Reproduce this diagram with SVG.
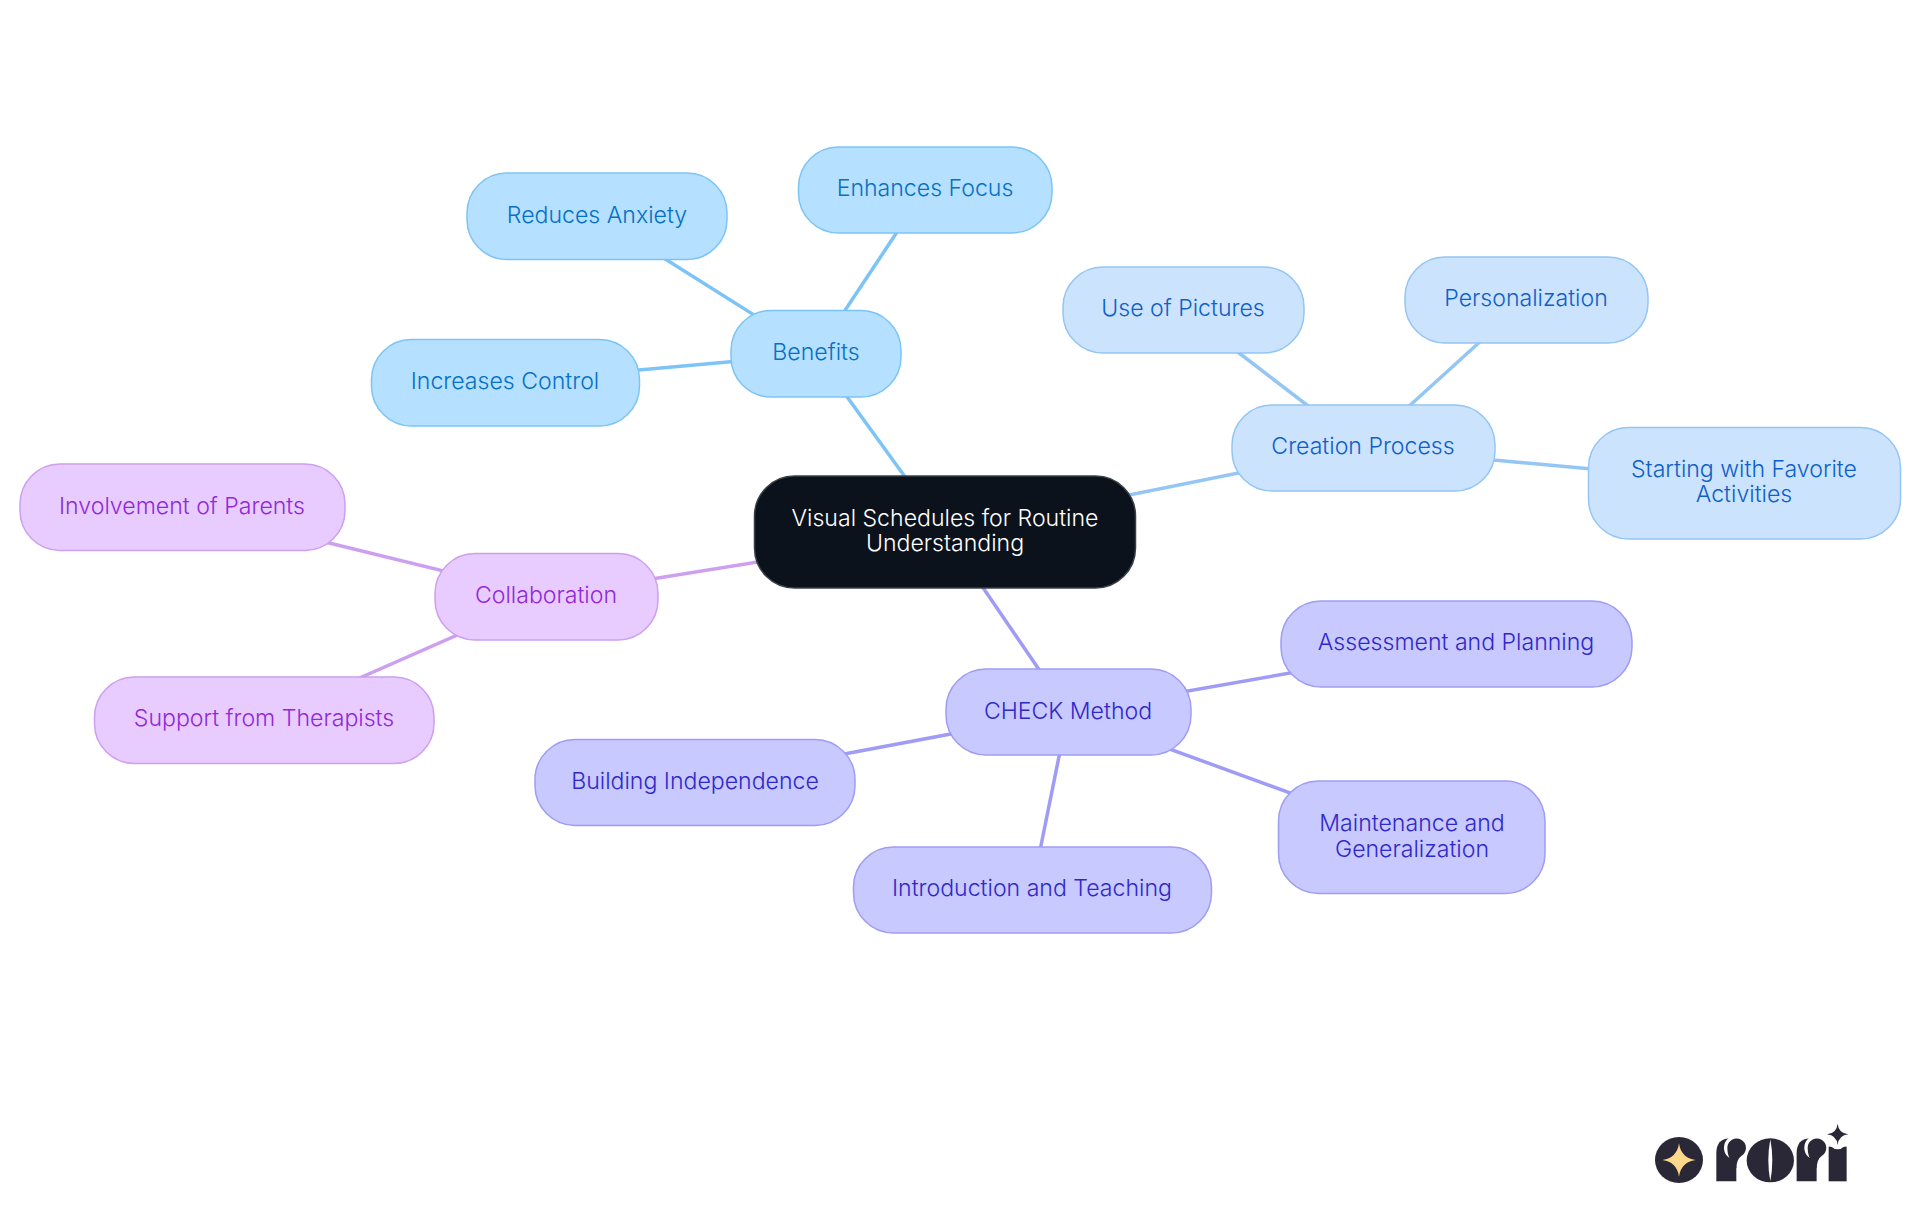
<svg xmlns="http://www.w3.org/2000/svg" width="1920" height="1215" viewBox="0 0 1920 1215">
<style>
text{font-family:"Inter","Noto Sans",sans-serif;font-size:23.1px;text-anchor:middle;font-weight:350}
rect{stroke-width:1.5}
line{stroke-width:3.5;fill:none}
.r rect{fill:#0b121b;stroke:#3a4048}.r text{fill:#fff}
.b rect{fill:#b5e0ff;stroke:#7cc4f5}.b text{fill:#0570c5}
.c rect{fill:#cce3fd;stroke:#93c5f5}.c text{fill:#0f5fc8}
.k rect{fill:#c7c9ff;stroke:#a09cf5}.k text{fill:#3028c8}
.p rect{fill:#e8ccff;stroke:#cc9ff0}.p text{fill:#9128d9}
.lb{stroke:#7cc4f5}.lc{stroke:#93c5f5}.lk{stroke:#a09cf5}.lp{stroke:#cc9ff0}
</style>
<rect width="1920" height="1215" fill="#fff" style="stroke:none"/>
<g id="connectors">
<line class="lb" x1="945" y1="532" x2="816" y2="354"/>
<line class="lb" x1="816" y1="354" x2="925" y2="190"/>
<line class="lb" x1="816" y1="354" x2="597" y2="216"/>
<line class="lb" x1="816" y1="354" x2="505" y2="382"/>
<line class="lc" x1="945" y1="532" x2="1363" y2="448"/>
<line class="lc" x1="1363" y1="448" x2="1183" y2="310"/>
<line class="lc" x1="1363" y1="448" x2="1526" y2="300"/>
<line class="lc" x1="1363" y1="448" x2="1744" y2="483"/>
<line class="lp" x1="945" y1="532" x2="546" y2="596"/>
<line class="lp" x1="546" y1="596" x2="182" y2="507"/>
<line class="lp" x1="546" y1="596" x2="264" y2="720"/>
<line class="lk" x1="945" y1="532" x2="1068" y2="712"/>
<line class="lk" x1="1068" y1="712" x2="1456" y2="644"/>
<line class="lk" x1="1068" y1="712" x2="1411" y2="837"/>
<line class="lk" x1="1068" y1="712" x2="1032" y2="890"/>
<line class="lk" x1="1068" y1="712" x2="695" y2="782"/>
</g>
<g id="root" class="r"><rect x="754.500" y="476" width="381" height="112" rx="40"/><text x="945" y="526">Visual Schedules for Routine</text><text x="945" y="551">Understanding</text></g>
<g id="benefits" class="b"><rect x="731" y="310.500" width="170" height="86.500" rx="40"/><text x="816" y="359.500">Benefits</text></g>
<g id="enhances-focus" class="b"><rect x="798.500" y="147" width="253.500" height="86" rx="40"/><text x="925" y="196">Enhances Focus</text></g>
<g id="reduces-anxiety" class="b"><rect x="467" y="173" width="260" height="86.500" rx="40"/><text x="597" y="222.500">Reduces Anxiety</text></g>
<g id="increases-control" class="b"><rect x="371.500" y="339.500" width="268" height="86.500" rx="40"/><text x="505" y="388.500">Increases Control</text></g>
<g id="creation-process" class="c"><rect x="1232" y="405" width="263" height="86" rx="40"/><text x="1363" y="454">Creation Process</text></g>
<g id="use-of-pictures" class="c"><rect x="1063" y="267" width="241" height="86" rx="40"/><text x="1183" y="316">Use of Pictures</text></g>
<g id="personalization" class="c"><rect x="1405" y="257" width="243" height="86" rx="40"/><text x="1526" y="306">Personalization</text></g>
<g id="starting" class="c"><rect x="1588.500" y="427.500" width="312" height="111.500" rx="40"/><text x="1744" y="477">Starting with Favorite</text><text x="1744" y="502">Activities</text></g>
<g id="collaboration" class="p"><rect x="435" y="553.500" width="223" height="86.500" rx="40"/><text x="546" y="602.500">Collaboration</text></g>
<g id="involvement" class="p"><rect x="20" y="464" width="325" height="86.500" rx="40"/><text x="182" y="513.500">Involvement of Parents</text></g>
<g id="support" class="p"><rect x="94.500" y="677" width="339.500" height="86.500" rx="40"/><text x="264" y="726">Support from Therapists</text></g>
<g id="check" class="k"><rect x="946" y="669" width="245" height="86" rx="40"/><text x="1068" y="718.500">CHECK Method</text></g>
<g id="assessment" class="k"><rect x="1281" y="601" width="351" height="86" rx="40"/><text x="1456" y="650">Assessment and Planning</text></g>
<g id="maintenance" class="k"><rect x="1278.500" y="781" width="266.500" height="112.500" rx="40"/><text x="1412" y="831">Maintenance and</text><text x="1412" y="856.500">Generalization</text></g>
<g id="introduction" class="k"><rect x="853.500" y="847" width="358" height="86" rx="40"/><text x="1032" y="896">Introduction and Teaching</text></g>
<g id="building" class="k"><rect x="535" y="739.500" width="320" height="86" rx="40"/><text x="695" y="788.500">Building Independence</text></g>
<g id="logo" transform="translate(1600 1090) scale(.3333)">
<ellipse cx="237" cy="210" rx="72" ry="69" fill="#2a2836"/>
<path d="M237 160Q243 204 287 210Q243 216 237 260Q231 216 187 210Q231 204 237 160Z" fill="#fcd98a"/>
<path d="M349 274V190Q349 147 388 145L409 230V274Z" fill="#2a2836"/>
<circle cx="410" cy="173" r="38" fill="#fff"/>
<path d="M382 173A28 28 0 1 1 425 197Q410 207 409 235L396 217Q382 199 382 173Z" fill="#2a2836"/>
<ellipse cx="511" cy="211" rx="71" ry="66" fill="#2a2836"/>
<path d="M511 148Q499 211 511 274Q523 211 511 148Z" fill="#fff"/>
<path d="M590 274V190Q590 147 629 145L650 230V274Z" fill="#2a2836"/>
<circle cx="651" cy="173" r="38" fill="#fff"/>
<path d="M623 173A28 28 0 1 1 666 197Q651 207 650 235L637 217Q623 199 623 173Z" fill="#2a2836"/>
<path d="M686 274V170H740V274Z" fill="#2a2836"/>
<circle cx="713" cy="150" r="28" fill="#fff"/>
<path d="M713 101Q716 130 745 133Q716 136 713 165Q710 136 681 133Q710 130 713 101Z" fill="#2a2836"/>
</g>
</svg>
